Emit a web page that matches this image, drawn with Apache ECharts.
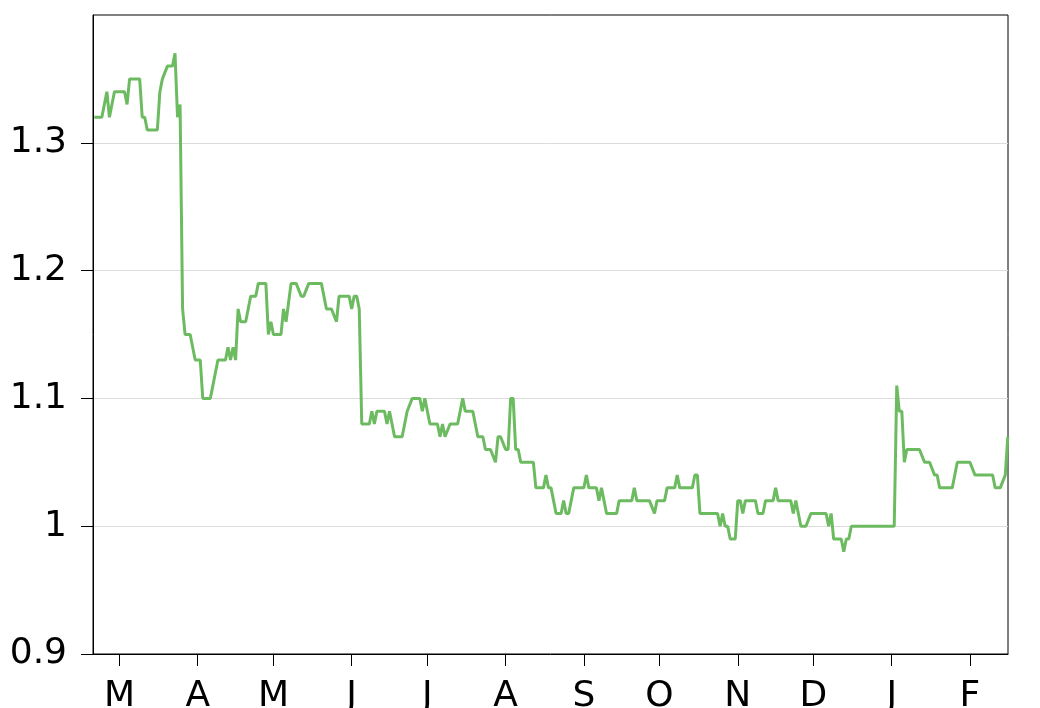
<!DOCTYPE html>
<html>
<head>
<meta charset="utf-8">
<script src="https://cdn.jsdelivr.net/npm/echarts@6/dist/echarts.min.js"></script>
<style>
  html, body { margin: 0; padding: 0; background: #fff; }
  #chart { width: 1040px; height: 708px; }
</style>
</head>
<body>
<div id="chart"></div>
<script>
// daily values (only the turning points)
const dates = [
  '2018-02-19', '2018-02-22', '2018-02-24', '2018-02-25', '2018-02-27', '2018-03-03', '2018-03-04', '2018-03-05',
  '2018-03-09', '2018-03-10', '2018-03-11', '2018-03-12', '2018-03-16', '2018-03-17', '2018-03-18', '2018-03-20',
  '2018-03-22', '2018-03-23', '2018-03-24', '2018-03-25', '2018-03-26', '2018-03-27', '2018-03-29', '2018-03-31',
  '2018-04-02', '2018-04-03', '2018-04-06', '2018-04-09', '2018-04-12', '2018-04-13', '2018-04-14', '2018-04-15',
  '2018-04-16', '2018-04-17', '2018-04-18', '2018-04-20', '2018-04-21', '2018-04-22', '2018-04-24', '2018-04-25',
  '2018-04-28', '2018-04-29', '2018-04-30', '2018-05-01', '2018-05-04', '2018-05-05', '2018-05-06', '2018-05-08',
  '2018-05-10', '2018-05-12', '2018-05-13', '2018-05-15', '2018-05-20', '2018-05-21', '2018-05-22', '2018-05-24',
  '2018-05-26', '2018-05-27', '2018-05-31', '2018-06-01', '2018-06-02', '2018-06-03', '2018-06-04', '2018-06-05',
  '2018-06-08', '2018-06-09', '2018-06-10', '2018-06-11', '2018-06-14', '2018-06-15', '2018-06-16', '2018-06-17',
  '2018-06-18', '2018-06-21', '2018-06-22', '2018-06-23', '2018-06-25', '2018-06-28', '2018-06-29', '2018-06-30',
  '2018-07-01', '2018-07-02', '2018-07-05', '2018-07-06', '2018-07-07', '2018-07-08', '2018-07-10', '2018-07-13',
  '2018-07-14', '2018-07-15', '2018-07-16', '2018-07-19', '2018-07-20', '2018-07-21', '2018-07-23', '2018-07-24',
  '2018-07-26', '2018-07-28', '2018-07-29', '2018-07-30', '2018-08-01', '2018-08-02', '2018-08-03', '2018-08-04',
  '2018-08-05', '2018-08-06', '2018-08-07', '2018-08-12', '2018-08-13', '2018-08-16', '2018-08-17', '2018-08-18',
  '2018-08-19', '2018-08-20', '2018-08-21', '2018-08-23', '2018-08-24', '2018-08-25', '2018-08-26', '2018-08-27',
  '2018-08-28', '2018-09-01', '2018-09-02', '2018-09-03', '2018-09-06', '2018-09-07', '2018-09-08', '2018-09-09',
  '2018-09-10', '2018-09-14', '2018-09-15', '2018-09-20', '2018-09-21', '2018-09-22', '2018-09-27', '2018-09-29',
  '2018-09-30', '2018-10-03', '2018-10-04', '2018-10-07', '2018-10-08', '2018-10-09', '2018-10-14', '2018-10-15',
  '2018-10-16', '2018-10-17', '2018-10-24', '2018-10-25', '2018-10-26', '2018-10-27', '2018-10-28', '2018-10-29',
  '2018-10-31', '2018-11-01', '2018-11-02', '2018-11-03', '2018-11-04', '2018-11-08', '2018-11-09', '2018-11-11',
  '2018-11-12', '2018-11-15', '2018-11-16', '2018-11-17', '2018-11-22', '2018-11-23', '2018-11-24', '2018-11-25',
  '2018-11-26', '2018-11-28', '2018-11-30', '2018-12-06', '2018-12-07', '2018-12-08', '2018-12-09', '2018-12-12',
  '2018-12-13', '2018-12-14', '2018-12-15', '2018-12-16', '2019-01-02', '2019-01-03', '2019-01-04', '2019-01-05',
  '2019-01-06', '2019-01-07', '2019-01-12', '2019-01-14', '2019-01-16', '2019-01-18', '2019-01-19', '2019-01-20',
  '2019-01-25', '2019-01-26', '2019-01-27', '2019-02-01', '2019-02-03', '2019-02-10', '2019-02-11', '2019-02-13',
  '2019-02-15', '2019-02-16'
]
const values = [
  1.32, 1.32, 1.34, 1.32, 1.34, 1.34, 1.33, 1.35,
  1.35, 1.32, 1.32, 1.31, 1.31, 1.34, 1.35, 1.36,
  1.36, 1.37, 1.32, 1.33, 1.17, 1.15, 1.15, 1.13,
  1.13, 1.10, 1.10, 1.13, 1.13, 1.14, 1.13, 1.14,
  1.13, 1.17, 1.16, 1.16, 1.17, 1.18, 1.18, 1.19,
  1.19, 1.15, 1.16, 1.15, 1.15, 1.17, 1.16, 1.19,
  1.19, 1.18, 1.18, 1.19, 1.19, 1.18, 1.17, 1.17,
  1.16, 1.18, 1.18, 1.17, 1.18, 1.18, 1.17, 1.08,
  1.08, 1.09, 1.08, 1.09, 1.09, 1.08, 1.09, 1.08,
  1.07, 1.07, 1.08, 1.09, 1.10, 1.10, 1.09, 1.10,
  1.09, 1.08, 1.08, 1.07, 1.08, 1.07, 1.08, 1.08,
  1.09, 1.10, 1.09, 1.09, 1.08, 1.07, 1.07, 1.06,
  1.06, 1.05, 1.07, 1.07, 1.06, 1.06, 1.10, 1.10,
  1.06, 1.06, 1.05, 1.05, 1.03, 1.03, 1.04, 1.03,
  1.03, 1.02, 1.01, 1.01, 1.02, 1.01, 1.01, 1.02,
  1.03, 1.03, 1.04, 1.03, 1.03, 1.02, 1.03, 1.02,
  1.01, 1.01, 1.02, 1.02, 1.03, 1.02, 1.02, 1.01,
  1.02, 1.02, 1.03, 1.03, 1.04, 1.03, 1.03, 1.04,
  1.04, 1.01, 1.01, 1.00, 1.01, 1.00, 1.00, 0.99,
  0.99, 1.02, 1.02, 1.01, 1.02, 1.02, 1.01, 1.01,
  1.02, 1.02, 1.03, 1.02, 1.02, 1.01, 1.02, 1.01,
  1.00, 1.00, 1.01, 1.01, 1.00, 1.01, 0.99, 0.99,
  0.98, 0.99, 0.99, 1.00, 1.00, 1.11, 1.09, 1.09,
  1.05, 1.06, 1.06, 1.05, 1.05, 1.04, 1.04, 1.03,
  1.03, 1.04, 1.05, 1.05, 1.04, 1.04, 1.03, 1.03,
  1.04, 1.07
]
// month ticks on the x axis
const monthTicks = [
  '2018-03-01', '2018-04-01', '2018-05-01', '2018-06-01', '2018-07-01', '2018-08-01',
  '2018-09-01', '2018-10-01', '2018-11-01', '2018-12-01', '2019-01-01', '2019-02-01'
]
const monthLetters = ['J', 'F', 'M', 'A', 'M', 'J', 'J', 'A', 'S', 'O', 'N', 'D']
const yTicks = [0.9, 1, 1.1, 1.2, 1.3]

// local-time timestamp from 'yyyy-mm-dd' (optionally ' hh')
function toTime (s) {
  const parts = s.split(/[- :]/).map(Number)
  return new Date(parts[0], parts[1] - 1, parts[2], parts[3] || 0).getTime()
}

const chartDom = document.getElementById('chart')
const myChart = echarts.init(chartDom, null, { renderer: 'canvas' })

const labelFont = 'DejaVu Sans'

const option = {
  animation: false,
  backgroundColor: '#fff',
  grid: {
    left: 93,
    right: 32,
    top: 15,
    bottom: 54,
    show: true,
    borderColor: '#000',
    borderWidth: 1,
    containLabel: false,
    outerBoundsMode: 'none'
  },
  xAxis: {
    // plain value axis holding timestamps, so month ticks can be placed exactly
    type: 'value',
    min: toTime('2018-02-18 12'),
    max: toTime('2019-02-16 2'),
    axisLine: { show: true, lineStyle: { color: '#000', width: 1 } },
    axisTick: {
      show: true,
      length: 12,
      inside: false,
      lineStyle: { color: '#000', width: 1 },
      customValues: monthTicks.map(toTime)
    },
    axisLabel: {
      show: true,
      margin: 25,
      color: '#000',
      fontFamily: labelFont,
      fontSize: 36,
      customValues: monthTicks.map(toTime),
      formatter: function (value) {
        return monthLetters[new Date(value).getMonth()]
      }
    },
    splitLine: { show: false }
  },
  yAxis: {
    type: 'value',
    min: 0.9,
    max: 1.4,
    interval: 0.1,
    axisLine: { show: true, lineStyle: { color: '#000', width: 1 } },
    axisTick: {
      show: true,
      length: 12,
      inside: false,
      lineStyle: { color: '#000', width: 1 },
      customValues: yTicks
    },
    axisLabel: {
      show: true,
      margin: 26,
      color: '#000',
      fontFamily: labelFont,
      fontSize: 36,
      customValues: yTicks,
      formatter: function (value) {
        return String(Math.round(value * 10) / 10)
      }
    },
    splitLine: { show: true, lineStyle: { color: '#dcdcdc', width: 1 } }
  },
  series: [
    {
      type: 'line',
      symbol: 'none',
      lineStyle: { color: '#6dbb60', width: 3 },
      data: dates.map(function (d, i) { return [toTime(d), values[i]] })
    }
  ]
}

myChart.setOption(option)
window.addEventListener('resize', function () { myChart.resize() })
</script>
</body>
</html>
